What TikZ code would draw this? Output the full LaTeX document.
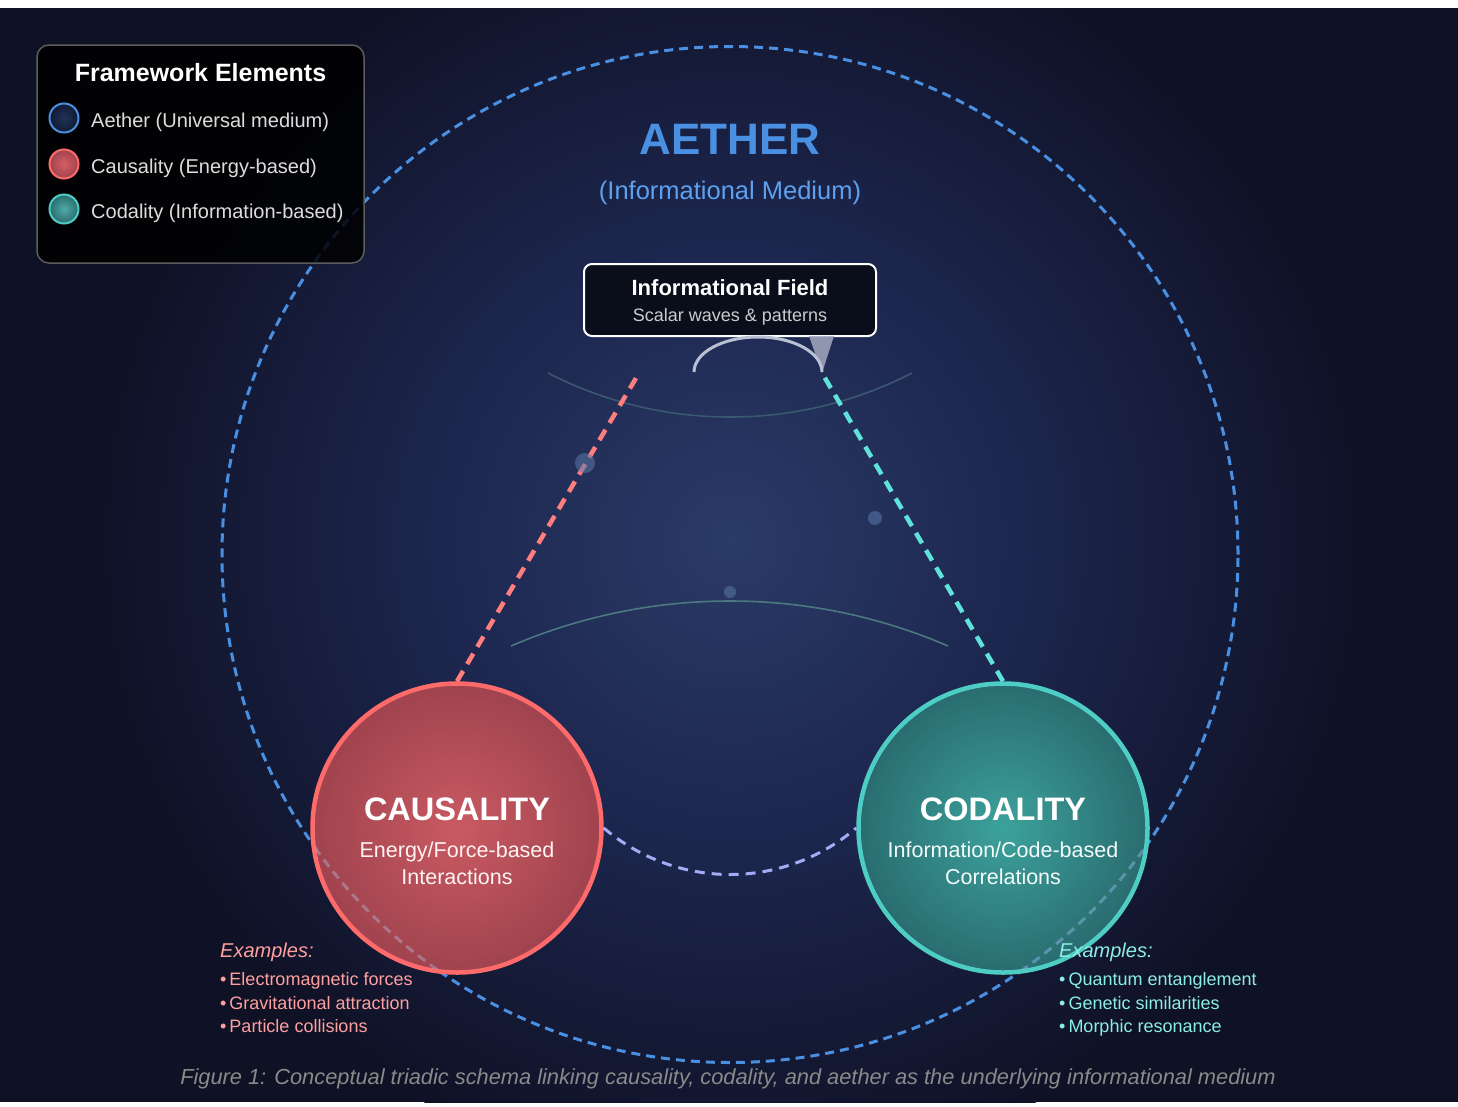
\documentclass[tikz,border=0pt]{standalone}
\usepackage{fontspec}
\setmainfont{Liberation Sans}
\definecolor{bgd}{HTML}{0F1125}
\definecolor{bgm}{HTML}{1D2750}
\definecolor{bgc}{HTML}{2A3B66}
\definecolor{aetherblue}{HTML}{4A90E2}
\definecolor{aetherlight}{HTML}{5EA0EE}
\definecolor{aetherin}{HTML}{1F3358}
\definecolor{aetherout}{HTML}{101A33}
\definecolor{causred}{HTML}{FF6B6B}
\definecolor{causdash}{HTML}{FF7E7E}
\definecolor{causin}{HTML}{C95A62}
\definecolor{causout}{HTML}{A0434E}
\definecolor{codteal}{HTML}{4ECDC4}
\definecolor{coddash}{HTML}{5FE2D9}
\definecolor{codin}{HTML}{3CA29C}
\definecolor{codout}{HTML}{2A6C70}
\definecolor{lav}{HTML}{A5AAF5}
\definecolor{faintA}{HTML}{3A5870}
\definecolor{faintB}{HTML}{4C7880}
\definecolor{dotc}{HTML}{5A78A8}
\definecolor{tailgray}{HTML}{A4A8C0}
\definecolor{arcgray}{HTML}{B8C0D2}
\definecolor{legtext}{HTML}{DDDDDD}
\definecolor{legborder}{HTML}{5C5C5C}
\definecolor{boxfill}{HTML}{0A0D1A}
\definecolor{subgray}{HTML}{CCCCCC}
\definecolor{exred}{HTML}{FFA0A0}
\definecolor{excyan}{HTML}{8AEEE6}
\definecolor{capgray}{HTML}{8A8A8A}
\pgfdeclareradialshading{bgshade}{\pgfpoint{0bp}{0bp}}{color(0bp)=(bgc); color(11bp)=(bgm); color(25bp)=(bgd); color(50bp)=(bgd)}
\begin{document}
\begin{tikzpicture}[x=1pt,y=-1pt,
  legitem/.style={anchor=base west, inner sep=0pt, text=legtext, font=\fontsize{20}{24}\selectfont},
  legdot/.style={circle, minimum size=29pt, inner sep=0pt, line width=2pt},
  bigcirc/.style={circle, minimum size=289pt, inner sep=0pt, line width=4.5pt},
  extitle/.style={anchor=base west, inner sep=0pt, font=\fontsize{20}{24}\selectfont\itshape},
  exitem/.style={anchor=base west, inner sep=0pt, font=\fontsize{18}{22}\selectfont},
  faint/.style={line width=1.6pt},
  dotn/.style={circle, inner sep=0pt, fill=dotc, fill opacity=0.55}
]
\useasboundingbox (0,0) rectangle (1458,1106);
% background
\fill[white] (0,0) rectangle (1458,1106);
\fill[bgd] (0,8) rectangle (1458,1102);
\begin{scope}
  \clip (0,8) rectangle (1458,1102);
  \shade[shading=bgshade] (730,540) circle[radius=640];
\end{scope}

% aether dashed circle
\node[circle, minimum size=1016pt, inner sep=0pt, draw=aetherblue, line width=3pt,
      dash pattern=on 9pt off 6pt] (aether) at (730,554.5) {};

% faint arcs
\coordinate (fa1) at (548,373);
\coordinate (fa2) at (912,373);
\coordinate (fb1) at (511,646);
\coordinate (fb2) at (948,646);
\draw[faint, faintA] (fa1) .. controls (662,431.7) and (798,431.7) .. (fa2);
\draw[faint, faintB] (fb1) .. controls (650.6,586) and (809.4,586) .. (fb2);

% legend box
\node[draw=legborder, line width=1.5pt, fill=black, fill opacity=0.85, text opacity=1,
      rounded corners=12pt, minimum width=327pt, minimum height=218pt] (legend) at (200.5,154) {};
\node[anchor=base, text=white, font=\fontsize{25}{28}\selectfont\bfseries] (legtitle) at (200.5,81) {Framework Elements};
\node[legdot, draw=aetherblue, inner color=aetherin, outer color=aetherout] (ld1) at (64,118) {};
\node[legdot, draw=causred, inner color=causin!80!causred, outer color=causout] (ld2) at (64,164) {};
\node[legdot, draw=codteal, inner color=codin!90!white, outer color=codout] (ld3) at (64,209) {};
\node[legitem] (lt1) at (91,127.5) {Aether (Universal medium)};
\node[legitem] (lt2) at (91,173.5) {Causality (Energy-based)};
\node[legitem] (lt3) at (91,218) {Codality (Information-based)};

% title
\node[anchor=base, text=aetherblue, font=\fontsize{44}{48}\selectfont\bfseries] (aetitle) at (730,154.5) {AETHER};
\node[anchor=base, text=aetherlight, font=\fontsize{25.5}{30}\selectfont] (aesub) at (730,199) {(Informational Medium)};

% informational field box
\node[draw=white, line width=2pt, fill=boxfill, rounded corners=8pt,
      minimum width=292pt, minimum height=72pt] (field) at (730,300) {};
\node[anchor=base, text=white, font=\fontsize{22}{26}\selectfont\bfseries] (fieldt) at (730,295) {Informational Field};
\node[anchor=base, text=subgray, font=\fontsize{18}{22}\selectfont] (fields) at (730,321.5) {Scalar waves \& patterns};

% tail + arc under field box
\fill[tailgray, opacity=0.85] (809,336) -- (834,336) -- (822,373) -- cycle;
\draw[arcgray, line width=3pt] (694,372) arc[start angle=180, end angle=360, x radius=64, y radius=35];

% circles
\node[bigcirc, draw=causred, inner color=causin, outer color=causout] (caus) at (457,828) {};
\node[bigcirc, draw=codteal, inner color=codin, outer color=codout] (cod) at (1003,828) {};

% aether circle showing through the circles
\begin{scope}
  \clip (457,828) circle[radius=143];
  \draw[aetherblue!40!white, opacity=0.35, line width=3pt, dash pattern=on 9pt off 6pt] (730,554.5) circle[radius=508];
\end{scope}
\begin{scope}
  \clip (1003,828) circle[radius=143];
  \draw[aetherblue!60!white, opacity=0.45, line width=3pt, dash pattern=on 9pt off 6pt] (730,554.5) circle[radius=508];
\end{scope}

% connectors
\coordinate (ctop) at (639,373);
\coordinate (dtop) at (822,373);
\draw[causdash, line width=4.5pt, dash pattern=on 12pt off 8pt] (caus.north) -- (ctop);
\draw[coddash, line width=4.5pt, dash pattern=on 12pt off 8pt] (cod.north) -- (dtop);
\draw[lav, line width=3pt, dash pattern=on 10pt off 7pt] (caus.east) .. controls (677,890) and (783,890) .. (cod.west);

% dots
\node[dotn, minimum size=20pt] (dot1) at (585,463) {};
\node[dotn, minimum size=14pt] (dot2) at (875,518) {};
\node[dotn, minimum size=12pt] (dot3) at (730,592) {};

% circle texts
\node[anchor=base, text=white, font=\fontsize{32.5}{36}\selectfont\bfseries] (caust) at (457,820) {CAUSALITY};
\node[anchor=base, text=white!92!causred, font=\fontsize{21.5}{27}\selectfont, align=center] (causs) at (457,884) {Energy/Force-based\\Interactions};
\node[anchor=base, text=white, font=\fontsize{32.5}{36}\selectfont\bfseries] (codt) at (1003,820) {CODALITY};
\node[anchor=base, text=white!94!codteal, font=\fontsize{21.5}{27}\selectfont, align=center] (cods) at (1003,884) {Information/Code-based\\Correlations};

% examples
\node[extitle, text=exred] (exl) at (220,957) {Examples:};
\node[exitem, text=exred] (exl1) at (220,985) {\textbullet\,Electromagnetic forces};
\node[exitem, text=exred] (exl2) at (220,1009) {\textbullet\,Gravitational attraction};
\node[exitem, text=exred] (exl3) at (220,1032) {\textbullet\,Particle collisions};
\node[extitle, text=excyan] (exr) at (1059,957) {Examples:};
\node[exitem, text=excyan] (exr1) at (1059,985) {\textbullet\,Quantum entanglement};
\node[exitem, text=excyan] (exr2) at (1059,1009) {\textbullet\,Genetic similarities};
\node[exitem, text=excyan] (exr3) at (1059,1032) {\textbullet\,Morphic resonance};

% caption
\node[anchor=base, text=capgray, font=\fontsize{21.8}{26}\selectfont\itshape] (caption) at (728,1084) {Figure 1: Conceptual triadic schema linking causality, codality, and aether as the underlying informational medium};
\end{tikzpicture}
\end{document}
